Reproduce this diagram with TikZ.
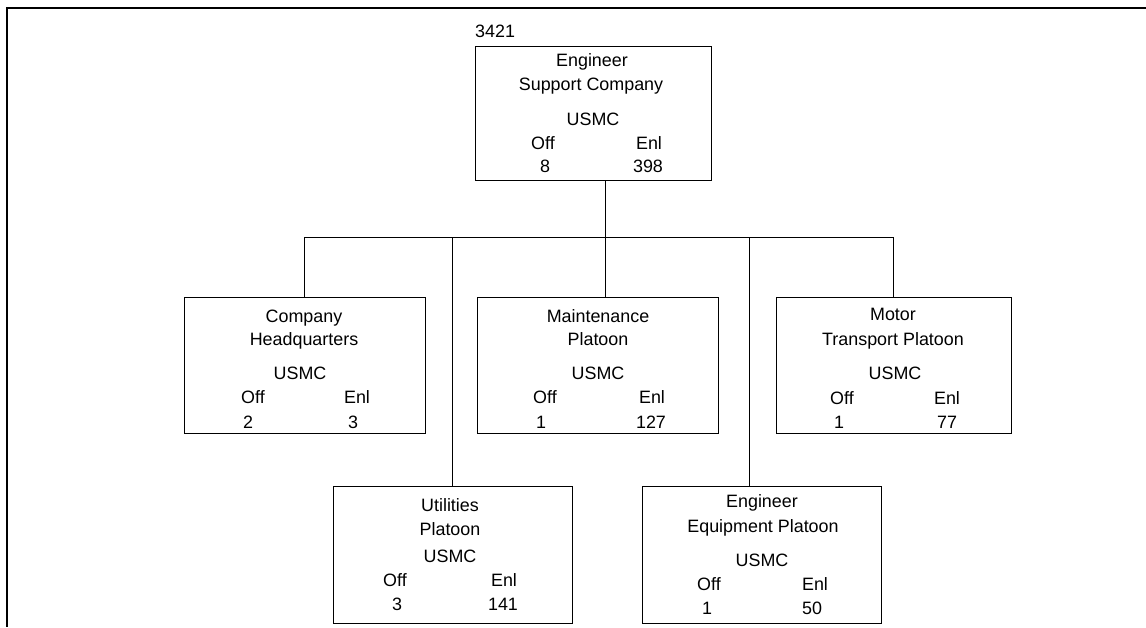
\documentclass[tikz,border=0pt]{standalone}
\usepackage{fontspec}
\setmainfont{Liberation Sans}
\begin{document}
\begin{tikzpicture}[x=1pt,y=-1pt,
  box/.style={draw,line width=1pt,inner sep=0pt},
  txt/.style={inner sep=0pt,anchor=base,font=\fontsize{17.9}{21}\selectfont},
  conn/.style={line width=1pt},
  frame/.style={line width=2pt}]
\useasboundingbox (0,0) rectangle (1146,627);
% frame
\coordinate (fr1) at (1146,8);
\coordinate (fr2) at (7,8);
\coordinate (fr3) at (7,627);
\draw[frame] (fr1) -- (fr2) -- (fr3);

% top box
\node[box,minimum width=236,minimum height=134] (top) at (593,113) {};
\node[txt,anchor=base west] (tnum) at (475,37.3) {3421};
\node[txt] (t1) at (592,66.7) {Engineer};
\node[txt] (t2) at (591,90.7) {Support Company};
\node[txt] (t3) at (593,125) {USMC};
\node[txt] (t4) at (543,149.3) {Off};
\node[txt] (t5) at (649,149.3) {Enl};
\node[txt] (t6) at (545,172.7) {8};
\node[txt] (t7) at (648,172.7) {398};

% company headquarters
\node[box,minimum width=241,minimum height=136] (chq) at (304.5,365) {};
\node[txt] (c1) at (304,322.3) {Company};
\node[txt] (c2) at (304,345.7) {Headquarters};
\node[txt] (c3) at (300,379.3) {USMC};
\node[txt] (c4) at (253,403.3) {Off};
\node[txt] (c5) at (357,403.3) {Enl};
\node[txt] (c6) at (248,428.3) {2};
\node[txt] (c7) at (353,428.3) {3};

% maintenance
\node[box,minimum width=241,minimum height=136] (mnt) at (597.5,365) {};
\node[txt] (m1) at (598,322.3) {Maintenance};
\node[txt] (m2) at (598,345.7) {Platoon};
\node[txt] (m3) at (598,379.3) {USMC};
\node[txt] (m4) at (545,403.3) {Off};
\node[txt] (m5) at (652,403.3) {Enl};
\node[txt] (m6) at (541,428.3) {1};
\node[txt] (m7) at (651,428.3) {127};

% motor transport
\node[box,minimum width=235,minimum height=136] (mot) at (893.5,365) {};
\node[txt] (o1) at (893,320.7) {Motor};
\node[txt] (o2) at (893,345.7) {Transport Platoon};
\node[txt] (o3) at (895,379.3) {USMC};
\node[txt] (o4) at (842,404) {Off};
\node[txt] (o5) at (947,404) {Enl};
\node[txt] (o6) at (839,428.3) {1};
\node[txt] (o7) at (947,428.3) {77};

% utilities
\node[box,minimum width=239,minimum height=137] (utl) at (452.5,554.5) {};
\node[txt] (u1) at (450,511.7) {Utilities};
\node[txt] (u2) at (450,535.7) {Platoon};
\node[txt] (u3) at (450,562.7) {USMC};
\node[txt] (u4) at (395,586.7) {Off};
\node[txt] (u5) at (504,586.7) {Enl};
\node[txt] (u6) at (397,610) {3};
\node[txt] (u7) at (503,610) {141};

% engineer equipment
\node[box,minimum width=239,minimum height=137] (eeq) at (761.5,554.5) {};
\node[txt] (e1) at (762,507.3) {Engineer};
\node[txt] (e2) at (763,532.7) {Equipment Platoon};
\node[txt] (e3) at (762,566.7) {USMC};
\node[txt] (e4) at (709,590.7) {Off};
\node[txt] (e5) at (815,590.7) {Enl};
\node[txt] (e6) at (707,614) {1};
\node[txt] (e7) at (812,614) {50};

% connectors
\coordinate (bus) at (605,237);
\coordinate (busE) at (749,237);
\draw[conn] (top.south -| bus) -- (bus);
\draw[conn] (bus -| chq.north) -- (bus -| mot.north);
\draw[conn] (bus -| chq.north) -- (chq.north);
\draw[conn] (bus -| utl.north) -- (utl.north);
\draw[conn] (bus) -- (bus |- mnt.north);
\draw[conn] (busE) -- (busE |- eeq.north);
\draw[conn] (bus -| mot.north) -- (mot.north);
\end{tikzpicture}
\end{document}
